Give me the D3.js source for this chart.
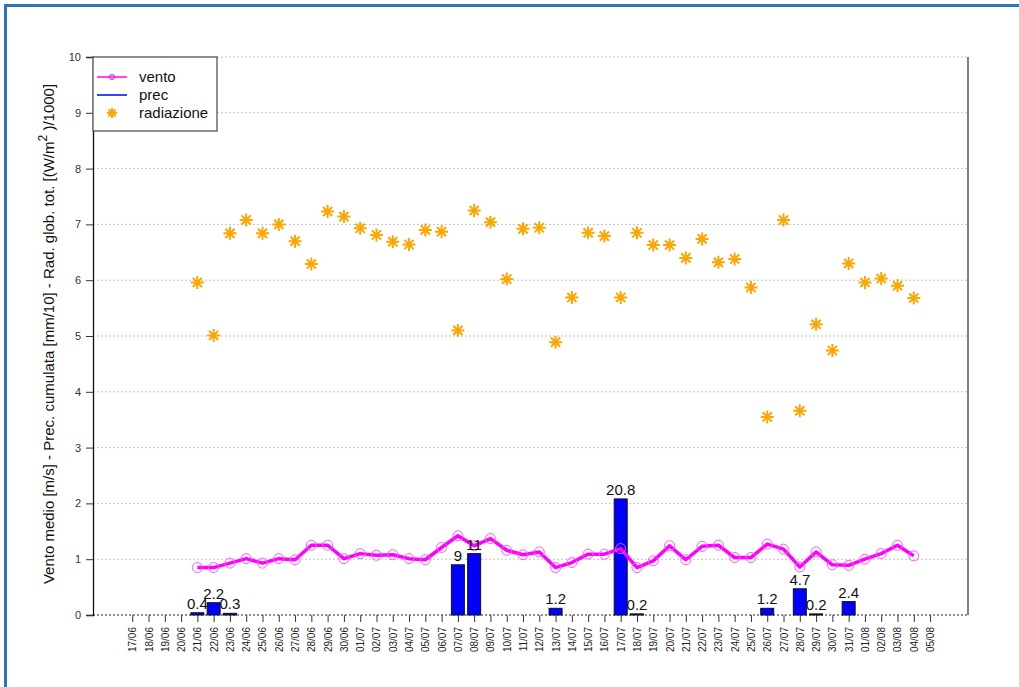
<!DOCTYPE html>
<html>
<head>
<meta charset="utf-8">
<script src="https://cdn.jsdelivr.net/npm/d3@7"></script>
<style>
  body { margin: 0; background: #fff; }
  svg text { font-family: "Liberation Sans", Arial, sans-serif; }
</style>
</head>
<body>
<div id="chart"></div>
<script>
// dates shown on the x axis (dd/mm)
var dates = ["17/06","18/06","19/06","20/06","21/06","22/06","23/06","24/06","25/06","26/06",
  "27/06","28/06","29/06","30/06","01/07","02/07","03/07","04/07","05/07","06/07",
  "07/07","08/07","09/07","10/07","11/07","12/07","13/07","14/07","15/07","16/07",
  "17/07","18/07","19/07","20/07","21/07","22/07","23/07","24/07","25/07","26/07",
  "27/07","28/07","29/07","30/07","31/07","01/08","02/08","03/08","04/08","05/08"];

// wind (m/s) from 21/06 to 04/08
var ventoDates = dates.slice(4, 49);
var vento = [0.85,0.85,0.93,1.01,0.93,1.01,0.99,1.25,1.25,1.01,
  1.10,1.07,1.08,1.01,0.99,1.21,1.42,1.24,1.37,1.16,
  1.08,1.13,0.85,0.94,1.09,1.09,1.19,0.85,0.97,1.24,
  0.99,1.23,1.25,1.03,1.03,1.27,1.18,0.86,1.13,0.90,
  0.89,1.00,1.10,1.25,1.06];

// global radiation (W/m2 / 1000), same days as wind
var radiazione = [5.96,5.01,6.84,7.08,6.84,7.00,6.70,6.29,7.23,7.14,
  6.93,6.81,6.69,6.64,6.90,6.87,5.10,7.25,7.04,6.02,
  6.92,6.94,4.89,5.69,6.85,6.79,5.69,6.85,6.63,6.63,
  6.40,6.74,6.32,6.38,5.87,3.55,7.08,3.66,5.21,4.74,
  6.30,5.96,6.03,5.90,5.68];

// cumulated precipitation (mm), plotted as mm/10
var precDates = ["21/06","22/06","23/06","07/07","08/07","13/07","17/07","18/07","26/07","28/07","29/07","31/07"];
var prec = [0.4,2.2,0.3,9,11,1.2,20.8,0.2,1.2,4.7,0.2,2.4];

var yTicks = [0,1,2,3,4,5,6,7,8,9,10];

var W = 1019, H = 687;
var svg = d3.select("#chart").append("svg").attr("width", W).attr("height", H);

// frame of the page
svg.append("rect").attr("x", 4).attr("y", 4).attr("width", W - 4).attr("height", 3).attr("fill", "#2e75b6");
svg.append("rect").attr("x", 4).attr("y", 4).attr("width", 3).attr("height", H - 4).attr("fill", "#2e75b6");

var pL = 93, pR = 968, pT = 57, pB = 615;
var idx = function (d) { return dates.indexOf(d); };
var x = d3.scaleLinear().domain([-2.41, 51.33]).range([pL, pR]);
var y = d3.scaleLinear().domain([0, 10]).range([pB, pT]);

// grid
svg.append("g").selectAll("line").data(yTicks.slice(1)).join("line")
  .attr("x1", pL).attr("x2", pR)
  .attr("y1", function (d) { return y(d); }).attr("y2", function (d) { return y(d); })
  .attr("stroke", "#c0c0c0").attr("stroke-dasharray", "2,2");
svg.append("line").attr("x1", pL).attr("x2", pR).attr("y1", y(0)).attr("y2", y(0))
  .attr("stroke", "#222").attr("stroke-dasharray", "2,2");
svg.append("line").attr("x1", pR).attr("x2", pR).attr("y1", pT).attr("y2", pB)
  .attr("stroke", "#555").attr("stroke-width", 1.5);

// y axis
var yAxis = svg.append("g").attr("transform", "translate(" + pL + ",0)")
  .call(d3.axisLeft(y).tickValues(yTicks).tickSize(7).tickPadding(5));
yAxis.select(".domain").attr("stroke", "#111").attr("stroke-width", 1.3);
yAxis.selectAll(".tick line").attr("stroke", "#333");
yAxis.selectAll("text").attr("font-size", 11).attr("fill", "#333")
  .style("font-family", "'Liberation Sans', Arial, sans-serif");

// x axis
var xAxis = svg.append("g").attr("transform", "translate(0," + pB + ")")
  .call(d3.axisBottom(x).tickValues(d3.range(dates.length)).tickFormat(function (i) { return dates[i]; })
    .tickSize(7).tickPadding(4));
xAxis.select(".domain").remove();
xAxis.selectAll(".tick line").attr("stroke", "#333");
xAxis.selectAll("text").attr("font-size", 10).attr("fill", "#222")
  .style("font-family", "'Liberation Sans', Arial, sans-serif")
  .attr("transform", "rotate(-90)").attr("text-anchor", "end")
  .attr("x", -12).attr("y", 0).attr("dy", "0.35em");

// y title
var title = svg.append("text").attr("transform", "translate(54," + ((pT + pB) / 2 - 2) + ") rotate(-90)")
  .attr("text-anchor", "middle").attr("font-size", 15).attr("fill", "#111");
title.append("tspan").text("Vento medio [m/s] - Prec. cumulata [mm/10] - Rad. glob. tot. [(W/m");
title.append("tspan").attr("dy", -7).attr("font-size", 12).text("2");
title.append("tspan").attr("dy", 7).text(" )/1000]");

// precipitation bars
var bw = 13;
svg.append("g").selectAll("rect").data(prec).join("rect")
  .attr("x", function (d, i) { return x(idx(precDates[i])) - bw / 2; })
  .attr("y", function (d) { return y(d / 10); })
  .attr("width", bw)
  .attr("height", function (d) { return y(0) - y(d / 10); })
  .attr("fill", "#0000ff").attr("stroke", "#111").attr("stroke-width", 1);

// wind line
var line = d3.line()
  .x(function (d, i) { return x(idx(ventoDates[i])); })
  .y(function (d) { return y(d); });
svg.append("path").datum(vento).attr("d", line)
  .attr("fill", "none").attr("stroke", "#ff00ff").attr("stroke-width", 3.5).attr("stroke-linejoin", "round");
svg.append("g").selectAll("circle").data(vento).join("circle")
  .attr("cx", function (d, i) { return x(idx(ventoDates[i])); })
  .attr("cy", function (d) { return y(d); })
  .attr("r", 5).attr("fill", "none").attr("stroke", "#ff55ff").attr("stroke-width", 1);

// bar value labels, on top of the line
svg.append("g").selectAll("text").data(prec).join("text")
  .attr("x", function (d, i) { return x(idx(precDates[i])); })
  .attr("y", function (d) { return y(d / 10) - 4; })
  .attr("text-anchor", "middle").attr("font-size", 15).attr("fill", "#111")
  .text(function (d) { return d; });

// radiation asterisks
function star(g, cx, cy, s) {
  var a = s * 0.707;
  var p = "M" + (cx - s) + "," + cy + "H" + (cx + s) +
    "M" + cx + "," + (cy - s) + "V" + (cy + s) +
    "M" + (cx - a) + "," + (cy - a) + "L" + (cx + a) + "," + (cy + a) +
    "M" + (cx - a) + "," + (cy + a) + "L" + (cx + a) + "," + (cy - a);
  g.append("path").attr("d", p).attr("stroke", "#ffa500").attr("stroke-width", 2).attr("fill", "none");
}
var sg = svg.append("g");
radiazione.forEach(function (d, i) { star(sg, x(idx(ventoDates[i])), y(d), 6.5); });

// legend
var lg = svg.append("g");
lg.append("rect").attr("x", pL).attr("y", pT).attr("width", 124).attr("height", 74)
  .attr("fill", "#fff").attr("stroke", "#555").attr("stroke-width", 1.3);
lg.append("line").attr("x1", 97).attr("x2", 127).attr("y1", 77).attr("y2", 77).attr("stroke", "#ff00ff").attr("stroke-width", 1.5);
lg.append("circle").attr("cx", 112).attr("cy", 77).attr("r", 2.5).attr("fill", "none").attr("stroke", "#ff00ff");
lg.append("line").attr("x1", 97).attr("x2", 127).attr("y1", 95).attr("y2", 95).attr("stroke", "#0000ff").attr("stroke-width", 1.5);
star(lg, 112, 113, 5);
lg.selectAll("text").data(["vento", "prec", "radiazione"]).join("text")
  .attr("x", 139).attr("y", function (d, i) { return 77 + i * 18; }).attr("dy", "0.35em")
  .attr("font-size", 15).attr("fill", "#111").text(function (d) { return d; });
</script>
</body>
</html>
